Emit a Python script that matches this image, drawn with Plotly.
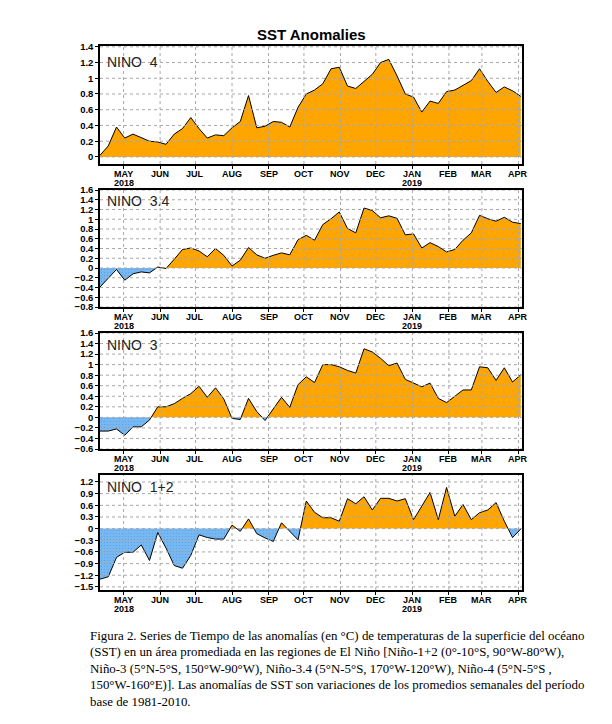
import plotly.graph_objects as go
import pandas as pd

# Weekly (Wednesday-centred) dates, 11 Apr 2018 – 3 Apr 2019
weeks = pd.date_range('2018-04-11', '2019-04-03', freq='7D')

nino4 = [0.02, 0.14, 0.38, 0.24, 0.29, 0.25, 0.20, 0.19, 0.16, 0.29,
         0.36, 0.50, 0.36, 0.24, 0.28, 0.27, 0.37, 0.45, 0.78, 0.37,
         0.39, 0.45, 0.44, 0.38, 0.63, 0.80, 0.85, 0.93, 1.12, 1.14,
         0.90, 0.87, 0.96, 1.05, 1.20, 1.24, 1.03, 0.80, 0.76, 0.57,
         0.71, 0.68, 0.83, 0.85, 0.91, 0.97, 1.12, 0.96, 0.82, 0.89,
         0.84, 0.77]

nino34 = [-0.39, -0.22, -0.03, -0.25, -0.12, -0.08, -0.10, 0.02, -0.01, 0.18,
          0.38, 0.41, 0.35, 0.23, 0.40, 0.26, 0.04, 0.16, 0.42, 0.27,
          0.20, 0.26, 0.31, 0.27, 0.58, 0.67, 0.57, 0.89, 1.01, 1.15,
          0.81, 0.72, 1.23, 1.18, 1.03, 1.07, 1.02, 0.68, 0.70, 0.41,
          0.52, 0.44, 0.33, 0.38, 0.57, 0.72, 1.08, 1.01, 0.96, 1.04,
          0.94, 0.91]

nino3 = [-0.26, -0.26, -0.22, -0.34, -0.18, -0.18, -0.05, 0.20, 0.20, 0.26,
         0.36, 0.45, 0.59, 0.38, 0.56, 0.35, -0.02, -0.04, 0.36, 0.11,
         -0.06, 0.17, 0.38, 0.19, 0.62, 0.77, 0.66, 1.00, 1.00, 0.96,
         0.89, 0.84, 1.30, 1.24, 1.12, 0.98, 1.03, 0.72, 0.65, 0.58,
         0.65, 0.36, 0.28, 0.40, 0.52, 0.52, 0.96, 0.94, 0.70, 0.94,
         0.67, 0.81]

nino12 = [-1.30, -1.24, -0.74, -0.61, -0.61, -0.42, -0.82, -0.10, -0.50, -0.95,
          -1.02, -0.69, -0.16, -0.23, -0.27, -0.27, 0.09, -0.07, 0.25, -0.13,
          -0.24, -0.33, 0.15, -0.07, -0.29, 0.71, 0.42, 0.28, 0.28, 0.19,
          0.77, 0.64, 0.82, 0.48, 0.78, 0.78, 0.71, 0.77, 0.23, 0.58,
          0.93, 0.23, 1.06, 0.32, 0.62, 0.23, 0.41, 0.48, 0.67, 0.19,
          -0.23, -0.01]

panel_names = ['NINO\u00a0\u00a04', 'NINO\u00a0\u00a03.4', 'NINO\u00a0\u00a03', 'NINO\u00a0\u00a01+2']
series = [nino4, nino34, nino3, nino12]

ytick_sets = [
    [0, 0.2, 0.4, 0.6, 0.8, 1.0, 1.2, 1.4],
    [-0.8, -0.6, -0.4, -0.2, 0, 0.2, 0.4, 0.6, 0.8, 1.0, 1.2, 1.4, 1.6],
    [-0.6, -0.4, -0.2, 0, 0.2, 0.4, 0.6, 0.8, 1.0, 1.2, 1.4, 1.6],
    [-1.5, -1.2, -0.9, -0.6, -0.3, 0, 0.3, 0.6, 0.9, 1.2],
]
yranges = [[-0.09, 1.41], [-0.8, 1.6], [-0.6, 1.6], [-1.58, 1.38]]

month_ticks = ['2018-05-01', '2018-06-01', '2018-07-01', '2018-08-01', '2018-09-01',
               '2018-10-01', '2018-11-01', '2018-12-01', '2019-01-01', '2019-02-01',
               '2019-03-01', '2019-04-01']
month_labels = ['MAY', 'JUN', 'JUL', 'AUG', 'SEP', 'OCT', 'NOV', 'DEC',
                'JAN', 'FEB', 'MAR', 'APR']
year_ticks = ['2018-05-01', '2019-01-01']
year_labels = ['2018', '2019']

title_text = 'SST Anomalies'
caption_lines = [
    'Figura 2. Series de Tiempo de las anomalías (en °C) de temperaturas de la superficie del océano',
    '(SST) en un área promediada en las regiones de El Niño [Niño-1+2 (0°-10°S, 90°W-80°W),',
    'Niño-3 (5°N-5°S, 150°W-90°W), Niño-3.4 (5°N-5°S, 170°W-120°W), Niño-4 (5°N-5°S ,',
    '150°W-160°E)]. Las anomalías de SST son variaciones de los promedios semanales del período',
    'base de 1981-2010.',
]

W, H = 612, 724
ORANGE = '#FFA500'
BLUE = '#74B8F4'

# pixel layout of panels (top, bottom)
panel_px = [(46, 164), (190, 307), (333, 449), (475, 590)]
x_px = (100, 522)


def split_at_zero(dates, vals):
    t = dates.astype('int64').to_numpy()
    xs, ys = [], []
    for i, v in enumerate(vals):
        if i > 0 and vals[i - 1] * v < 0:
            f = vals[i - 1] / (vals[i - 1] - v)
            tc = t[i - 1] + f * (t[i] - t[i - 1])
            xs.append(pd.Timestamp(int(tc)))
            ys.append(0.0)
        xs.append(dates[i])
        ys.append(v)
    return xs, ys


fig = go.Figure()
shapes = []
annotations = []
tickfont = dict(family='Liberation Sans', size=9.5, color='black', weight='bold')
xlabfont = dict(family='Liberation Sans', size=9, color='black', weight='bold')

for k, vals in enumerate(series):
    n = k + 1
    xa = 'x' if n == 1 else f'x{n}'
    ya = 'y' if n == 1 else f'y{n}'
    xs, ys = split_at_zero(weeks, vals)
    pos = [max(v, 0) for v in ys]
    neg = [min(v, 0) for v in ys]
    fig.add_trace(go.Scatter(x=xs, y=pos, mode='lines', fill='tozeroy',
                             fillcolor=ORANGE, line=dict(width=0),
                             xaxis=xa, yaxis=ya, showlegend=False, hoverinfo='skip'))
    fig.add_trace(go.Scatter(x=xs, y=neg, mode='lines', fill='tozeroy',
                             fillcolor=BLUE, line=dict(width=0),
                             fillpattern=dict(shape='.', bgcolor=BLUE, fgcolor='#6a9ad6',
                                              size=3, solidity=0.12),
                             xaxis=xa, yaxis=ya, showlegend=False, hoverinfo='skip'))
    fig.add_trace(go.Scatter(x=list(weeks), y=vals, mode='lines',
                             line=dict(color='black', width=1),
                             xaxis=xa, yaxis=ya, showlegend=False))

    top, bot = panel_px[k]
    dom_y = [1 - bot / H, 1 - top / H]
    dom_x = [x_px[0] / W, x_px[1] / W]
    xkey = 'xaxis' if n == 1 else f'xaxis{n}'
    ykey = 'yaxis' if n == 1 else f'yaxis{n}'
    fig.update_layout(**{
        xkey: dict(domain=dom_x, anchor=ya, type='date',
                   range=['2018-04-11', '2019-04-04'],
                   tickvals=month_ticks, showticklabels=False,
                   ticks='outside', ticklen=3, tickcolor='black',
                   showgrid=False, zeroline=False, showline=True, mirror=True,
                   linecolor='black', linewidth=1.5),
        ykey: dict(domain=dom_y, anchor=xa, range=yranges[k],
                   tickvals=ytick_sets[k], tickfont=tickfont,
                   ticks='outside', ticklen=3, tickcolor='black',
                   showgrid=False, zeroline=False, showline=True, mirror=True,
                   linecolor='black', linewidth=1.5),
    })
    # dotted grid drawn above the fills
    for yv in ytick_sets[k]:
        shapes.append(dict(type='line', xref=f'{xa} domain', yref=ya,
                           x0=0, x1=1, y0=yv, y1=yv, layer='above',
                           line=dict(color='#a8a8a8', width=1, dash='dot')))
    for mv in month_ticks:
        shapes.append(dict(type='line', xref=xa, yref=f'{ya} domain',
                           x0=mv, x1=mv, y0=0, y1=1, layer='above',
                           line=dict(color='#a8a8a8', width=1, dash='dot')))
    # month / year labels under the axis
    for mv, ml in zip(month_ticks, month_labels):
        annotations.append(dict(text=ml, xref=xa, yref='paper', x=mv,
                                y=1 - (bot + 10) / H, xanchor='center', yanchor='middle',
                                showarrow=False, font=xlabfont))
    for yv, yl in zip(year_ticks, year_labels):
        annotations.append(dict(text=yl, xref=xa, yref='paper', x=yv,
                                y=1 - (bot + 18.5) / H, xanchor='center', yanchor='middle',
                                showarrow=False, font=xlabfont))
    ly = top + (15.5 if k == 0 else 11.5)
    annotations.append(dict(text=panel_names[k], xref='paper', yref='paper',
                            x=105 / W, y=1 - ly / H, xanchor='left', yanchor='middle',
                            showarrow=False,
                            font=dict(family='Liberation Sans', size=14, color='#222222')))

annotations.append(dict(text=f'<b>{title_text}</b>', xref='paper', yref='paper',
                        x=311 / W, y=1 - 34 / H, xanchor='center', yanchor='middle',
                        showarrow=False,
                        font=dict(family='Liberation Sans', size=15, color='black')))
for j, line in enumerate(caption_lines):
    annotations.append(dict(text=line, xref='paper', yref='paper',
                            x=88 / W, y=1 - (636 + 16.4 * j) / H, xanchor='left',
                            yanchor='middle', align='left', showarrow=False,
                            font=dict(family='Liberation Serif', size=12.9, color='black')))

fig.update_layout(width=W, height=H, template='none',
                  margin=dict(l=0, r=0, t=0, b=0),
                  paper_bgcolor='white', plot_bgcolor='white',
                  shapes=shapes, annotations=annotations, showlegend=False)

fig.write_html('out.html', config={'displayModeBar': False},
               post_script="document.body.style.margin='0';document.body.style.padding='0';")
